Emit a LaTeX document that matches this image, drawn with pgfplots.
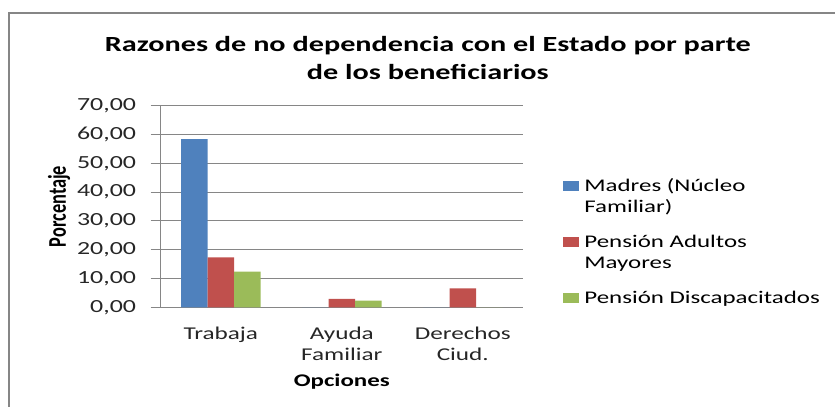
\documentclass[border=0pt]{standalone}
\usepackage{fontspec}
\setmainfont{Carlito}[FakeStretch=1.4]
\newfontfamily\condfont{Carlito}[FakeStretch=0.72]
\usepackage{pgfplots}
\pgfplotsset{compat=1.18}
\definecolor{cBlue}{HTML}{4F81BD}
\definecolor{cRed}{HTML}{C0504D}
\definecolor{cGreen}{HTML}{9BBB59}
\definecolor{gridc}{HTML}{868686}
\pgfplotsset{
  lowimg/.style={legend image code/.code={\fill[##1] (0bp,-5bp) rectangle (16bp,5bp);}},
  upimg/.style={legend image code/.code={\fill[##1] (0bp,5.5bp) rectangle (16bp,15.5bp);}},
}
\begin{document}
\begin{tikzpicture}
\useasboundingbox (0,0) rectangle (835bp,407bp);
\draw[gridc, line width=2bp] (8.7bp,-2bp) -- (8.7bp,393.7bp) -- (840bp,393.7bp);
\begin{axis}[
  at={(160.3bp,99.7bp)}, anchor=south west,
  scale only axis, width=363bp, height=201.6bp,
  ybar=0pt, bar width=26.5bp,
  xmin=-0.5, xmax=2.5, ymin=0, ymax=70,
  xtick={0,1,2},
  xticklabels={Trabaja,{Ayuda\\Familiar},{Derechos\\Ciud.}},
  ytick={0,10,...,70},
  axis x line*=bottom, axis y line*=left,
  axis line style={gridc, line width=1bp, -},
  x axis line style={draw=none},
  ymajorgrids, grid style={gridc, line width=1bp},
  major x tick style={draw=none},
  major y tick style={gridc, line width=1bp},
  tick align=outside, major tick length=9.6bp,
  /pgf/number format/.cd, fixed, fixed zerofill, precision=2, use comma, assume math mode=true,
  /pgfplots/.cd,
  yticklabel style={font=\fontsize{18.5bp}{21bp}\selectfont, color=black!85, anchor=east, inner sep=0pt, xshift=-14.5bp},
  xticklabel style={font=\fontsize{18bp}{21.5bp}\selectfont, color=black!85, align=center, anchor=north, inner sep=0pt, yshift=-9.5bp},
  xlabel={\textbf{Opciones}},
  xlabel style={font=\fontsize{17.8bp}{21bp}\selectfont, at={(axis description cs:0.5,-0.369)}, anchor=center},
  ylabel={\condfont\bfseries Porcentaje},
  ylabel style={font=\fontsize{25.5bp}{28bp}\selectfont, at={(axis description cs:-0.279,0.5)}, anchor=center, rotate=0},
  title={\textbf{Razones de no dependencia con el Estado por parte}\\\textbf{de los beneficiarios}},
  title style={font=\fontsize{21.6bp}{27.5bp}\selectfont, align=center, at={(axis description cs:0.737,1.315)}, anchor=north, inner sep=0pt},
  legend style={draw=none, at={(axis description cs:1.11,0.65)}, anchor=north west,
    font=\fontsize{17.8bp}{21bp}\selectfont, cells={align=left, anchor=west}, row sep=17bp,
    column sep=3bp, inner sep=0pt},
]
\addplot[fill=cBlue, draw=none, upimg] coordinates {(0,58.4) (1,0) (2,0)};
\addplot[fill=cRed, draw=none, upimg] coordinates {(0,17.3) (1,2.9) (2,6.6)};
\addplot[fill=cGreen, draw=none, lowimg] coordinates {(0,12.4) (1,2.3) (2,0)};
\legend{{Madres (Núcleo\\Familiar)},{Pensión Adultos\\Mayores},{Pensión Discapacitados}}
\end{axis}
\end{tikzpicture}
\end{document}
